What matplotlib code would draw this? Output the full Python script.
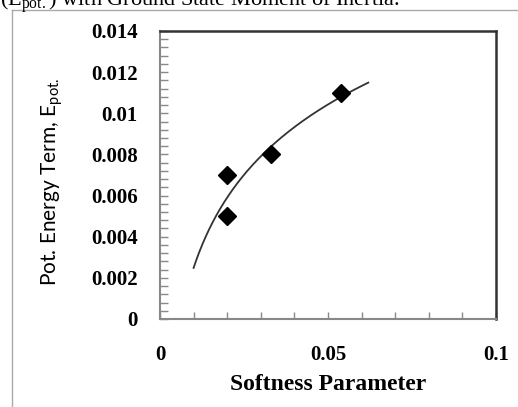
import numpy as np
import matplotlib
matplotlib.use("Agg")
import matplotlib.pyplot as plt
from matplotlib.lines import Line2D
from matplotlib.ticker import MultipleLocator

plt.rcParams['mathtext.fontset'] = 'custom'
plt.rcParams['mathtext.rm'] = 'Liberation Serif'
plt.rcParams['mathtext.sf'] = 'Lato'

# data
softness = [0.02, 0.02, 0.033, 0.054]
e_pot = [0.007, 0.005, 0.008, 0.011]

# excel style log trendline range
trend_start = 0.01
trend_end = 0.062

x_ticks = [0, 0.05, 0.1]
x_ticklabels = ["0", "0.05", "0.1"]
y_ticks = [0, 0.002, 0.004, 0.006, 0.008, 0.01, 0.012, 0.014]
y_ticklabels = ["0", "0.002", "0.004", "0.006", "0.008", "0.01", "0.012", "0.014"]

# log fit  y = a*ln(x) + b
a, b = np.polyfit(np.log(softness), e_pot, 1)
xt = np.linspace(trend_start, trend_end, 200)
yt = a*np.log(xt) + b

fig = plt.figure(figsize=(5.18, 4.07), dpi=100)
ax = fig.add_axes([160/518, 1-319/407, 336/518, 288/407])

ax.plot(xt, yt, color="#333333", linewidth=1.3, zorder=2)
ax.plot(softness, e_pot, linestyle='none', marker='D', markersize=9,
        color="black", zorder=3)

ax.set_xlim(0, 0.1)
ax.set_ylim(0, 0.014)
ax.set_xticks(x_ticks)
ax.set_xticklabels(x_ticklabels)
ax.set_yticks(y_ticks)
ax.set_yticklabels(y_ticklabels)
ax.xaxis.set_minor_locator(MultipleLocator(0.01))
ax.yaxis.set_minor_locator(MultipleLocator(0.0004))

tick_font = dict(family="Liberation Serif", weight="bold", size=15)
for lab in ax.get_xticklabels() + ax.get_yticklabels():
    lab.set_fontproperties(matplotlib.font_manager.FontProperties(**tick_font))

ax.tick_params(axis='x', which='both', direction='in', length=5, width=1,
               color="#888888", pad=19)
ax.tick_params(axis='y', which='both', direction='in', length=6, width=1,
               color="#888888", pad=16)

for s in ["left", "bottom"]:
    ax.spines[s].set_color("#888888")
    ax.spines[s].set_linewidth(1.5)
for s in ["top", "right"]:
    ax.spines[s].set_color("#333333")
    ax.spines[s].set_linewidth(1.8)

ax.set_xlabel("Softness Parameter", fontfamily="Liberation Serif",
              fontweight="bold", fontsize=17, va="center")
ax.xaxis.set_label_coords(0.5, -0.229)
ax.set_ylabel(r"Pot. Energy Term, E$_{\mathsf{pot.}}$", fontfamily="Lato",
              fontsize=15, va="center")
ax.yaxis.set_label_coords(-0.321, 0.476)

# page frame and clipped caption above the chart
fig.add_artist(Line2D([12/518, 12/518], [0, 1-10/407], color="#aaaaaa", linewidth=1))
fig.add_artist(Line2D([12/518, 1], [1-10/407, 1-10/407], color="#aaaaaa", linewidth=1))
fig.text(0.0, 1-6/407, r"(E$_{\mathrm{pot.}}$) with Ground State Moment of Inertia.",
         fontfamily="Liberation Serif", fontsize=16, va="baseline", ha="left")

plt.savefig("out.png", dpi=100)
